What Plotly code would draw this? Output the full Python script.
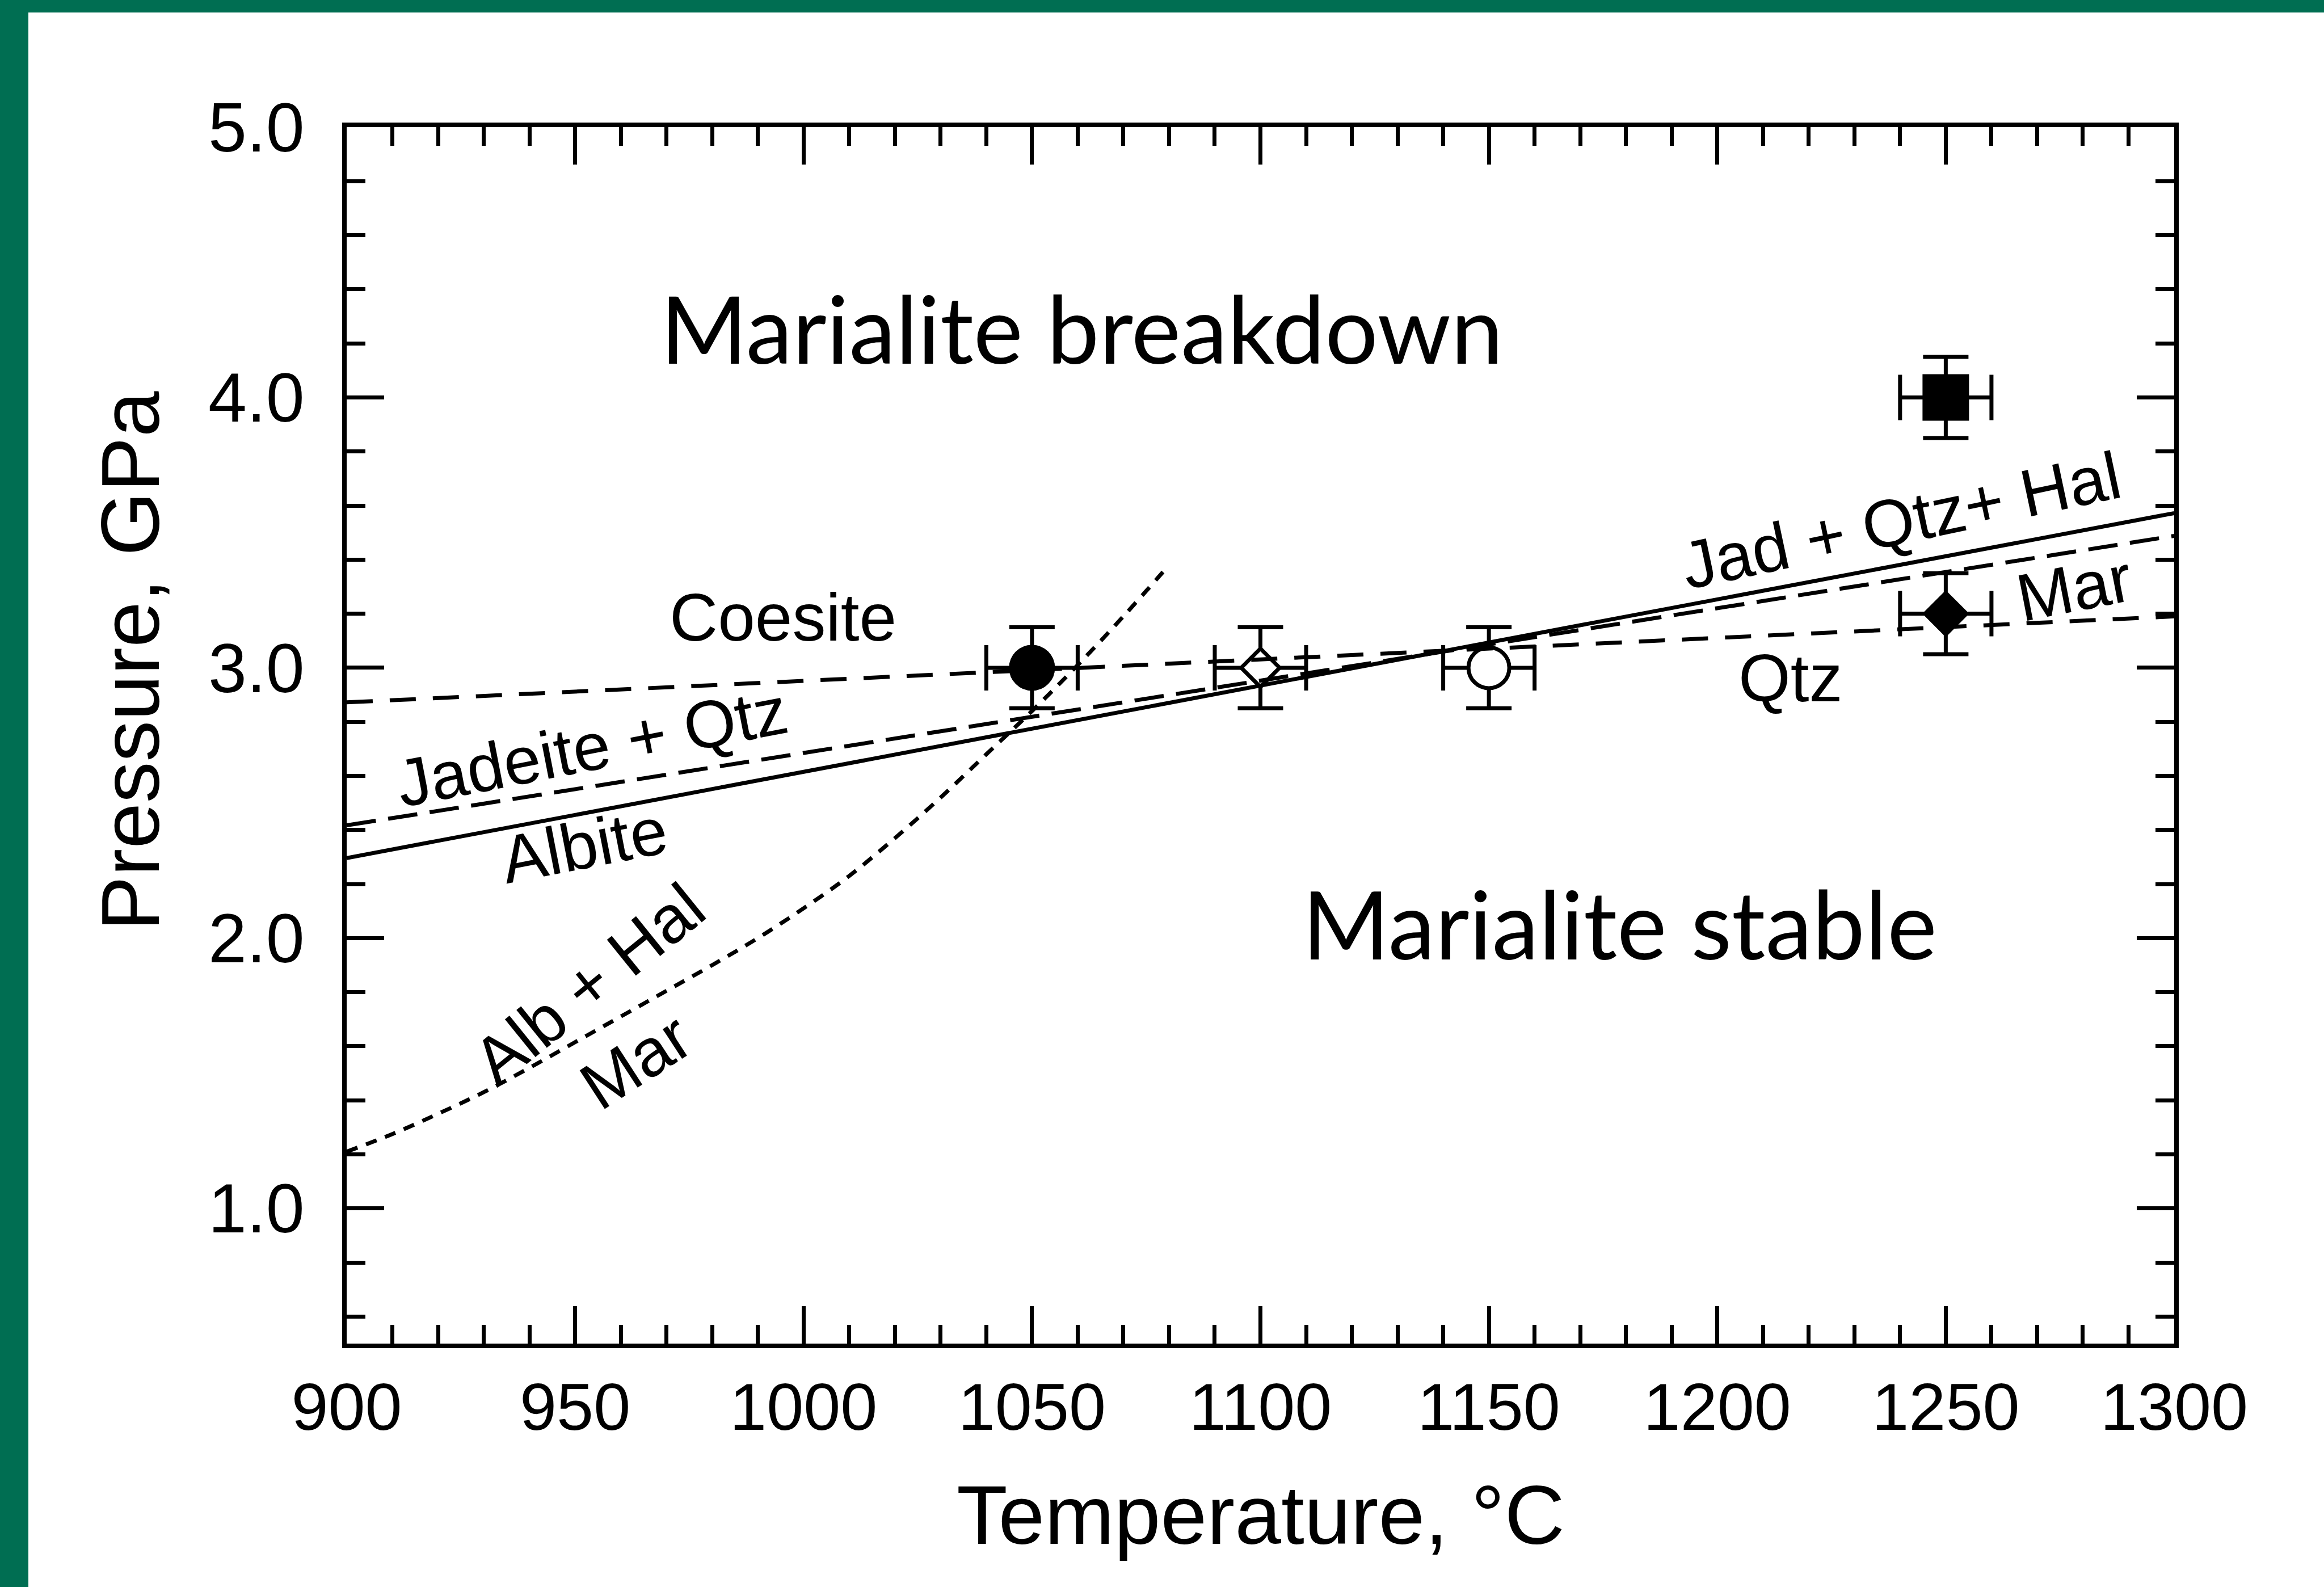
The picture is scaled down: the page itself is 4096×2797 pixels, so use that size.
import plotly.graph_objects as go

# ---------------- data ----------------
temp_pts = [1050, 1100, 1150, 1250, 1250]
press_pts = [3.0, 3.0, 3.0, 4.0, 3.2]
temp_err = [10, 10, 10, 10, 10]
press_err = [0.15, 0.15, 0.15, 0.15, 0.15]
pt_symbols = ['circle', 'diamond', 'circle', 'square', 'diamond']
pt_fill = ['black', 'white', 'white', 'black', 'black']

qtz_coe_T = [900, 1300]
qtz_coe_P = [2.872, 3.19]

jd_qtz_ab_T = [900, 1300]
jd_qtz_ab_P = [2.296, 3.572]

jd_qtz_hal_mar_T = [900, 1300]
jd_qtz_hal_mar_P = [2.417, 3.488]

ab_hal_mar_T = [900, 910, 920, 930, 940, 950, 960, 970, 980, 990,
                1000, 1010, 1020, 1030, 1040, 1050, 1060, 1070, 1080]
ab_hal_mar_P = [1.21, 1.275, 1.35, 1.43, 1.52, 1.615, 1.71, 1.805, 1.90, 2.00,
                2.11, 2.23, 2.37, 2.52, 2.68, 2.84, 3.01, 3.19, 3.38]

x_ticks = [900, 950, 1000, 1050, 1100, 1150, 1200, 1250, 1300]
x_tick_labels = ['900', '950', '1000', '1050', '1100', '1150', '1200', '1250', '1300']
y_ticks = [1, 2, 3, 4, 5]
y_tick_labels = ['1.0', '2.0', '3.0', '4.0', '5.0']

# ---------------- style ----------------
W, H = 4096, 2797
ML, MR, MT, MB = 611, 264, 224, 429
PW, PH = W - ML - MR, H - MT - MB
GREEN = '#006E52'
ARIAL = 'Liberation Sans, Arial, sans-serif'
CALIBRI = 'Lato, Open Sans, sans-serif'

fig = go.Figure()

# data points with error bars (drawn first so the phase lines pass over them)
fig.add_trace(go.Scatter(
    x=temp_pts, y=press_pts, mode='markers',
    marker=dict(symbol=pt_symbols, size=[74, 52, 72, 75, 56], color=pt_fill, opacity=1,
                line=dict(color='black', width=7)),
    error_x=dict(type='data', array=temp_err, width=40, thickness=7, color='black'),
    error_y=dict(type='data', array=press_err, width=40, thickness=7, color='black'),
    hoverinfo='skip'))

fig.add_trace(go.Scatter(x=qtz_coe_T, y=qtz_coe_P, mode='lines',
                         line=dict(color='black', width=7, dash='46px,30px')))
fig.add_trace(go.Scatter(x=jd_qtz_hal_mar_T, y=jd_qtz_hal_mar_P, mode='lines',
                         line=dict(color='black', width=7, dash='52px,22px')))
fig.add_trace(go.Scatter(x=jd_qtz_ab_T, y=jd_qtz_ab_P, mode='lines',
                         line=dict(color='black', width=7)))
fig.add_trace(go.Scatter(x=ab_hal_mar_T, y=ab_hal_mar_P, mode='lines',
                         line=dict(color='black', width=7, dash='20px,16px', shape='spline')))

axis_common = dict(
    ticks='inside', ticklen=66, tickwidth=7, tickcolor='black',
    showline=True, linewidth=8, linecolor='black', mirror='ticks',
    showgrid=False, zeroline=False,
)
fig.update_xaxes(range=[900, 1300], tickmode='array', tickvals=x_ticks, ticktext=x_tick_labels,
                 tickfont=dict(family=ARIAL, size=117, color='black'), ticklabelstandoff=4,
                 minor=dict(tick0=900, dtick=10, ticks='inside', ticklen=33, tickwidth=7,
                            tickcolor='black', showgrid=False),
                 **axis_common)
fig.update_yaxes(range=[0.5, 5.0], tickmode='array', tickvals=y_ticks, ticktext=y_tick_labels,
                 tickfont=dict(family=ARIAL, size=122, color='black'), ticklabelstandoff=42,
                 minor=dict(tick0=0, dtick=0.2, ticks='inside', ticklen=33, tickwidth=7,
                            tickcolor='black', showgrid=False),
                 **axis_common)

ann = []
def label(text, x, y, size=118, angle=0, family=ARIAL, xref='x', yref='y'):
    ann.append(dict(text=text, x=x, y=y, xref=xref, yref=yref, showarrow=False,
                    xanchor='center', yanchor='middle', textangle=angle,
                    font=dict(family=family, size=size, color='black')))

label('Marialite breakdown', 1060.9, 4.26, size=165, family=CALIBRI)
label('Marialite stable', 1178.6, 2.056, size=166, family=CALIBRI)
label('Coesite', 995.5, 3.186)
label('Jadeite + Qtz', 953.7, 2.707, angle=-11)
label('Albite', 952.0, 2.344, angle=-11)
label('Alb + Hal', 953.0, 1.83, angle=-39)
label('Mar', 963.3, 1.545, angle=-33)
label('Jad + Qtz+ Hal', 1240.2, 3.546, angle=-12)
label('Mar', 1278.1, 3.296, angle=-11)
label('Qtz', 1216.1, 2.962)
# axis titles
label('Temperature, °C', 0.5, (2368 - 2670) / PH, size=147, xref='paper', yref='paper')
label('Pressure, GPa', (230 - ML) / PW, 0.5608, size=145, angle=-90, xref='paper', yref='paper')

shapes = [
    dict(type='rect', xref='paper', yref='paper', x0=-ML / PW, x1=(50 - ML) / PW,
         y0=-MB / PH, y1=1 + MT / PH, fillcolor=GREEN, line=dict(width=0), layer='below'),
    dict(type='rect', xref='paper', yref='paper', x0=-ML / PW, x1=1 + MR / PW,
         y0=1 + (MT - 22) / PH, y1=1 + MT / PH, fillcolor=GREEN, line=dict(width=0), layer='below'),
]

fig.update_layout(width=W, height=H, autosize=False,
                  margin=dict(l=ML, r=MR, t=MT, b=MB, pad=0),
                  paper_bgcolor='white', plot_bgcolor='white', showlegend=False,
                  annotations=ann, shapes=shapes)

fig.write_html("out.html", config={'displayModeBar': False},
               post_script="document.body.style.margin='0';document.body.style.overflow='hidden';")
